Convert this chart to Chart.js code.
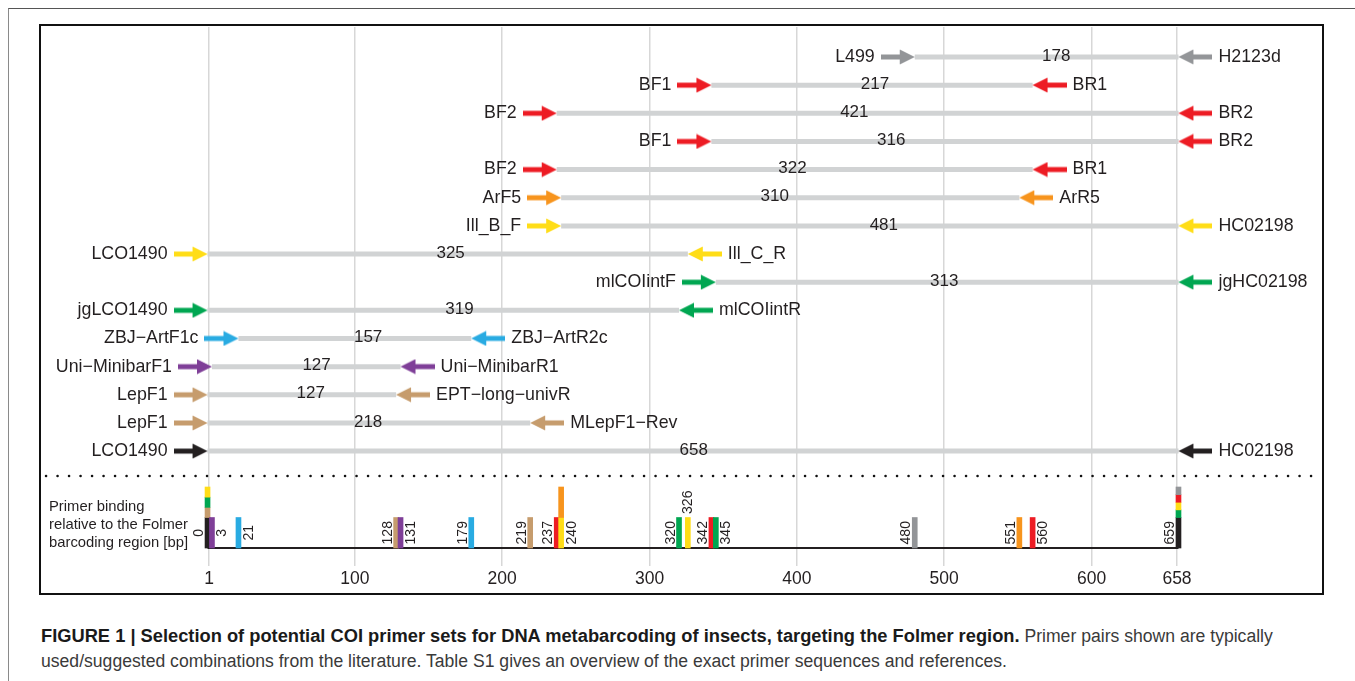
<!DOCTYPE html>
<html>
<head>
<meta charset="utf-8">
<script src="https://cdn.jsdelivr.net/npm/chart.js@4.4.0/dist/chart.umd.min.js"></script>
<style>
  body { margin: 0; background: #fff; font-family: "Liberation Sans", Arial, sans-serif; }
  #page { position: relative; width: 1355px; height: 681px; overflow: hidden; }
  #outer { position: absolute; left: 8px; top: 8px; width: 1400px; height: 700px; border-top: 1px solid #555; border-left: 1px solid #8a8a8a; }
  #wrap { position: absolute; left: 0; top: 0; width: 1355px; height: 600px; }
  #frame { position: absolute; left: 39px; top: 24px; width: 1285px; height: 571px; border: 2px solid #111; box-sizing: border-box; pointer-events: none; }
  #caption { position: absolute; left: 41px; top: 623px; white-space: nowrap; font-size: 17.6px; line-height: 25px; color: #3a3a3a; }
  #caption b { color: #1a1a1a; font-size: 18.3px; }
</style>
</head>
<body>
<div id="page">
  <div id="outer"></div>
  <div id="wrap"><canvas id="chart" width="1355" height="600"></canvas></div>
  <div id="frame"></div>
  <div id="caption"><b>FIGURE 1 | Selection of potential COI primer sets for DNA metabarcoding of insects, targeting the Folmer region.</b> Primer pairs shown are typically<br>used/suggested combinations from the literature. Table S1 gives an overview of the exact primer sequences and references.</div>
</div>
<script>
// axis ticks (bp)
const xTicks = [1, 100, 200, 300, 400, 500, 600, 658];

// primer pairs, top row first
const fwdNames = ["L499", "BF1", "BF2", "BF1", "BF2", "ArF5", "Ill_B_F", "LCO1490", "mlCOIintF", "jgLCO1490", "ZBJ−ArtF1c", "Uni−MinibarF1", "LepF1", "LepF1", "LCO1490"];
const revNames = ["H2123d", "BR1", "BR2", "BR2", "BR1", "ArR5", "HC02198", "Ill_C_R", "jgHC02198", "mlCOIintR", "ZBJ−ArtR2c", "Uni−MinibarR1", "EPT−long−univR", "MLepF1−Rev", "HC02198"];
const fwdPos = [480, 342, 237, 342, 237, 240, 240, 0, 345, 0, 21, 3, 0, 0, 0];
const revPos = [659, 560, 659, 659, 560, 551, 659, 326, 659, 320, 179, 131, 128, 219, 659];
const rowGroup = ["L499", "BF", "BF", "BF", "BF", "Ar", "Ill", "Ill", "mlCOI", "mlCOI", "ZBJ", "Minibar", "Lep", "Lep", "Folmer"];
const ampLen = [178, 217, 421, 316, 322, 310, 481, 325, 313, 319, 157, 127, 127, 218, 658];
const ampLabelAt = [576, 453, 439, 464, 397, 385, 459, 165, 500, 171, 109, 74, 70, 109, 330];

// binding sites in the bottom panel, groups listed bottom to top
const bindSites = [0, 3, 21, 128, 131, 179, 219, 237, 240, 320, 326, 342, 345, 480, 551, 560, 659];
const bindGroups = [
  ["Folmer", "Lep", "mlCOI", "Ill"], ["Minibar"], ["ZBJ"], ["Lep"], ["Minibar"], ["ZBJ"], ["Lep"], ["BF"],
  ["Ill", "Ar"], ["mlCOI"], ["Ill"], ["BF"], ["mlCOI"], ["L499"], ["Ar"], ["BF"],
  ["Folmer", "mlCOI", "Ill", "BF", "L499"]
];
const bindLabelSide = ["l", "r", "r", "l", "r", "l", "l", "l", "r", "l", "t", "l", "r", "l", "l", "r", "l"];

const palette = {
  L499: "#939598", BF: "#ed1c24", Ar: "#f7941d", Ill: "#ffdd17", mlCOI: "#00a651",
  ZBJ: "#29abe2", Minibar: "#7f3f98", Lep: "#c69c6d", Folmer: "#231f20"
};
const FONT = "'Liberation Sans', Arial, sans-serif";

// arrow bitmap, tip sits at the centre of the canvas so the point value is the tip
const arrowCache = {};
function arrowImage(color) {
  if (arrowCache[color]) return arrowCache[color];
  const c = document.createElement("canvas");
  c.width = 68; c.height = 16;
  const g = c.getContext("2d");
  g.fillStyle = color;
  g.fillRect(0, 5.5, 21, 5);
  g.beginPath();
  g.moveTo(19, 0.5); g.lineTo(34, 8); g.lineTo(19, 15.5);
  g.closePath(); g.fill();
  arrowCache[color] = c;
  return c;
}

const ampDatasets = ampLen.map((len, i) => ({
  type: "line",
  data: [{ x: fwdPos[i], y: i + 1 }, { x: revPos[i], y: i + 1 }],
  borderColor: "#d1d3d4",
  borderWidth: 5,
  borderCapStyle: "butt",
  pointRadius: 0,
  yAxisID: "y",
  order: 5
}));

const fwdArrows = {
  type: "scatter",
  data: fwdPos.map((p, i) => ({ x: p, y: i + 1 })),
  pointStyle: rowGroup.map(g => arrowImage(palette[g])),
  pointRotation: 0,
  yAxisID: "y",
  order: 0
};
const revArrows = {
  type: "scatter",
  data: revPos.map((p, i) => ({ x: p, y: i + 1 })),
  pointStyle: rowGroup.map(g => arrowImage(palette[g])),
  pointRotation: 180,
  yAxisID: "y",
  order: 0
};

const segs = [];
const segColors = [];
bindSites.forEach((s, i) => {
  const groups = bindGroups[i];
  segs.push({ x: s, y: [0, 1] });
  segColors.push(palette[groups[0]]);
  const caps = groups.slice(1);
  caps.forEach((g, k) => {
    segs.push({ x: s, y: [1 + k / caps.length, 1 + (k + 1) / caps.length] });
    segColors.push(palette[g]);
  });
});
const bindBars = {
  type: "bar",
  data: segs,
  backgroundColor: segColors,
  barThickness: 5,
  yAxisID: "y2",
  order: 1
};
const baseline = {
  type: "line",
  data: [{ x: 0, y: 0 }, { x: 659, y: 0 }],
  borderColor: "#231f20",
  borderWidth: 2,
  pointRadius: 0,
  yAxisID: "y2",
  order: 4
};

const labelsPlugin = {
  id: "labels",
  beforeDatasetsDraw(chart) {
    const { ctx, chartArea, scales } = chart;
    const y = scales.y.getPixelForValue(15.885);
    ctx.save();
    ctx.strokeStyle = "#111";
    ctx.lineWidth = 2.5;
    ctx.lineCap = "round";
    ctx.setLineDash([0.1, 11.4]);
    ctx.beginPath();
    ctx.moveTo(chartArea.left + 4, y);
    ctx.lineTo(chartArea.right, y);
    ctx.stroke();
    ctx.restore();
  },
  afterDatasetsDraw(chart) {
    const { ctx, scales } = chart;
    const xs = scales.x, ys = scales.y, y2 = scales.y2;
    ctx.save();
    ctx.fillStyle = "#231f20";
    ctx.textBaseline = "middle";
    fwdNames.forEach((name, i) => {
      const y = ys.getPixelForValue(i + 1);
      ctx.font = "17.8px " + FONT;
      ctx.textAlign = "right";
      ctx.fillText(name, xs.getPixelForValue(fwdPos[i]) - 34 - 6, y);
      ctx.textAlign = "left";
      ctx.fillText(revNames[i], xs.getPixelForValue(revPos[i]) + 34 + 6, y);
      ctx.font = "17px " + FONT;
      ctx.textAlign = "center";
      ctx.fillText(String(ampLen[i]), xs.getPixelForValue(ampLabelAt[i]), y - 1);
    });

    // binding site numbers, rotated
    ctx.font = "14px " + FONT;
    bindSites.forEach((s, i) => {
      const x = xs.getPixelForValue(s);
      const side = bindLabelSide[i];
      ctx.save();
      if (side === "t") {
        ctx.translate(x, y2.getPixelForValue(1.5));
        ctx.rotate(-Math.PI / 2);
        ctx.textAlign = "center";
        ctx.textBaseline = "middle";
      } else if (side === "l") {
        ctx.translate(x - 4.5, y2.getPixelForValue(0.5));
        ctx.rotate(-Math.PI / 2);
        ctx.textAlign = "center";
        ctx.textBaseline = "alphabetic";
      } else {
        ctx.translate(x + 3.5, y2.getPixelForValue(0.5));
        ctx.rotate(-Math.PI / 2);
        ctx.textAlign = "center";
        ctx.textBaseline = "top";
      }
      ctx.fillText(String(s), 0, 0);
      ctx.restore();
    });

    // panel caption
    const base = y2.getPixelForValue(0);
    ctx.font = "14.8px " + FONT;
    ctx.textAlign = "left";
    ctx.textBaseline = "alphabetic";
    ["Primer binding", "relative to the Folmer", "barcoding region [bp]"].forEach((t, k) => {
      ctx.fillText(t, chart.chartArea.left + 7, base - 37 + k * 18);
    });
    ctx.restore();
  }
};

new Chart(document.getElementById("chart"), {
  type: "scatter",
  data: { datasets: [fwdArrows, revArrows, bindBars, baseline, ...ampDatasets] },
  options: {
    responsive: false,
    animation: false,
    events: [],
    layout: { padding: { left: 42, right: 34, top: 27, bottom: 0 } },
    plugins: { legend: { display: false }, tooltip: { enabled: false } },
    scales: {
      x: {
        type: "linear",
        min: -112.35,
        max: 755.73,
        offset: false,
        afterBuildTicks: s => { s.ticks = xTicks.map(v => ({ value: v })); },
        afterFit: s => { s.height = 34; },
        grid: { color: "#d7d7d7", lineWidth: 1.5, drawTicks: false, offset: false },
        border: { display: false },
        ticks: { color: "#231f20", font: { size: 17.5, family: FONT }, padding: 3, maxRotation: 0, autoSkip: false, callback: v => String(v) }
      },
      y: { type: "linear", display: false, reverse: true, min: -0.0657, max: 19.0817 },
      y2: { type: "linear", display: false, min: -0.59, max: 17.082, stacked: false }
    }
  },
  plugins: [labelsPlugin]
});
</script>
</body>
</html>
